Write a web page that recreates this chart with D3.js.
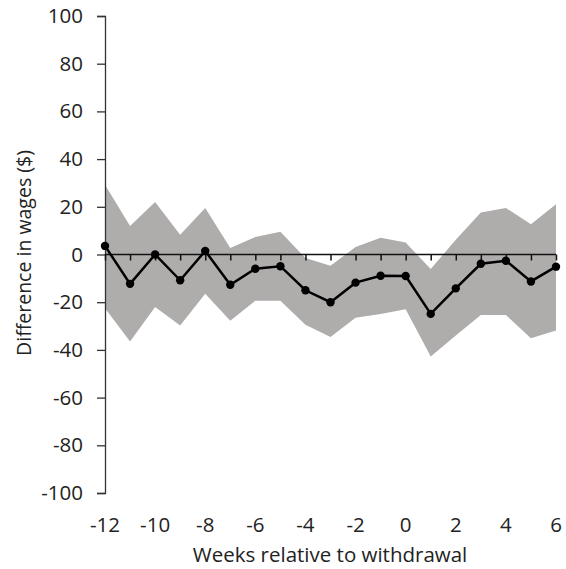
<!DOCTYPE html>
<html>
<head>
<meta charset="utf-8">
<script src="https://cdn.jsdelivr.net/npm/d3@7"></script>
<style>
  html, body { margin: 0; padding: 0; background: #fff; }
  svg text { font-family: "Open Sans", Lato, sans-serif; fill: #222; }
</style>
</head>
<body>
<svg id="chart" width="566" height="569"></svg>
<script>
// Weekly wage difference estimates with confidence band
const weeks = [-12, -11, -10, -9, -8, -7, -6, -5, -4, -3, -2, -1, 0, 1, 2, 3, 4, 5, 6];
const estimate = [3.6, -12.3, 0, -10.8, 1.5, -12.7, -6, -4.9, -15, -20, -11.8, -8.9, -9, -24.9, -14.2, -3.9, -2.6, -11.3, -5.1];
const upper = [29.2, 12, 22, 8.3, 19.5, 2.7, 7.3, 9.5, -1.5, -4.7, 3.1, 7, 5, -6.1, 6.2, 17.6, 19.5, 12.7, 21.1];
const lower = [-22.5, -36.5, -22, -29.8, -16.5, -27.8, -19.4, -19.4, -29.5, -34.6, -26.5, -24.9, -23, -42.8, -34, -25.4, -25.4, -35.1, -31.9];
const xTickLabels = [-12, -10, -8, -6, -4, -2, 0, 2, 4, 6];
const yTickLabels = [-100, -80, -60, -40, -20, 0, 20, 40, 60, 80, 100];

const rows = weeks.map((w, i) => ({ w, est: estimate[i], hi: upper[i], lo: lower[i] }));
const fmt = d => String(d); // plain hyphen for negatives

const svg = d3.select("#chart");
const x = d3.scaleLinear().domain([-12, 6]).range([105, 556]);
const y = d3.scaleLinear().domain([-100, 100]).range([493, 16]);

// Confidence band
svg.append("path")
  .datum(rows)
  .attr("fill", "#afacac")
  .attr("d", d3.area().x(d => x(d.w)).y0(d => y(d.lo)).y1(d => y(d.hi)));

// Y axis
const yAxis = svg.append("g")
  .attr("transform", `translate(${x(-12)},0)`)
  .call(d3.axisLeft(y).tickValues(yTickLabels).tickFormat(fmt).tickSize(8).tickPadding(14));
yAxis.select(".domain").attr("stroke", "#333").attr("stroke-width", 1.3);
yAxis.selectAll(".tick line").attr("stroke", "#333").attr("stroke-width", 1.3);
yAxis.selectAll("text").style("font-size", "20.5px").attr("fill", "#222");

// Zero line with weekly ticks
const xAxis = svg.append("g")
  .attr("transform", `translate(0,${y(0)})`)
  .call(d3.axisBottom(x).tickValues(weeks).tickSize(6).tickFormat(""));
xAxis.select(".domain").attr("stroke", "#111").attr("stroke-width", 1.5).attr("d", `M${x(-12)},0H${x(6)}`);
xAxis.selectAll(".tick line").attr("stroke", "#111").attr("stroke-width", 1.5);

// Week labels along the bottom
svg.append("g").selectAll("text")
  .data(xTickLabels)
  .join("text")
  .attr("x", d => x(d))
  .attr("y", 525)
  .attr("dy", "0.35em")
  .attr("text-anchor", "middle")
  .style("font-size", "20.5px")
  .text(fmt);

// Estimate line and points
svg.append("path")
  .datum(rows)
  .attr("fill", "none")
  .attr("stroke", "#000")
  .attr("stroke-width", 2.5)
  .attr("d", d3.line().x(d => x(d.w)).y(d => y(d.est)));

svg.append("g").selectAll("circle")
  .data(rows)
  .join("circle")
  .attr("cx", d => x(d.w))
  .attr("cy", d => y(d.est))
  .attr("r", 4.2)
  .attr("fill", "#000");

// Axis titles
svg.append("text")
  .attr("x", 330)
  .attr("y", 555)
  .attr("dy", "0.35em")
  .attr("text-anchor", "middle")
  .style("font-size", "20.5px")
  .text("Weeks relative to withdrawal");

svg.append("text")
  .attr("transform", "translate(24,253) rotate(-90)")
  .attr("dy", "0.35em")
  .attr("text-anchor", "middle")
  .style("font-size", "19.5px")
  .text("Difference in wages ($)");
</script>
</body>
</html>
